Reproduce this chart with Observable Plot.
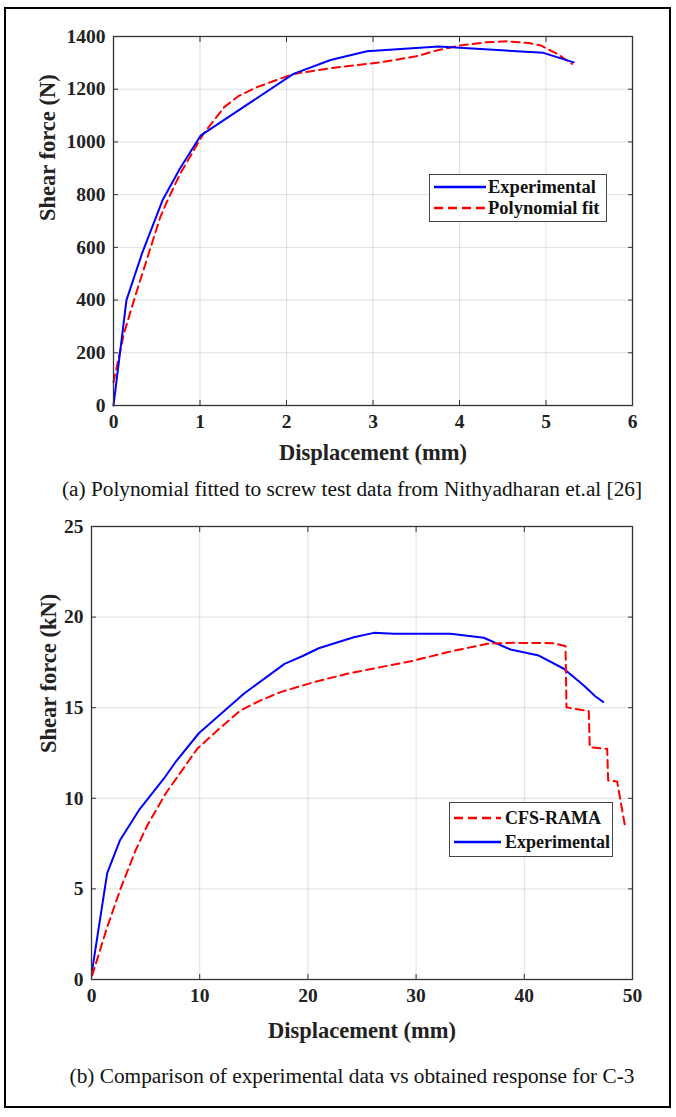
<!DOCTYPE html>
<html><head><meta charset="utf-8">
<script src="https://cdn.jsdelivr.net/npm/d3@7"></script>
<script src="https://cdn.jsdelivr.net/npm/@observablehq/plot@0.6"></script>
<style>
body{margin:0;background:#fff;}
#page{position:relative;width:676px;height:1117px;overflow:hidden;font-family:"Liberation Serif","Times New Roman",serif;background:#fff;}
.border{position:absolute;left:4px;top:7px;width:667px;height:1101px;border:2.5px solid #000;box-sizing:border-box;}
.chart{position:absolute;left:0;}
.caption{position:absolute;left:14px;width:676px;text-align:center;font-size:21.3px;color:#111;line-height:1;}
.legend{position:absolute;background:#fff;border:1.2px solid #444;box-sizing:border-box;font-weight:bold;font-size:18.5px;color:#111;}
.legend .sw{position:absolute;}
.legend .lb{position:absolute;line-height:1;white-space:nowrap;}
</style>
</head><body>
<div id="page">
  <div class="border"></div>
  <div class="chart" id="c1" style="top:0px"></div>
  <div class="caption" style="top:479px">(a) Polynomial fitted to screw test data from Nithyadharan et.al [26]</div>
  <div class="chart" id="c2" style="top:480px"></div>
  <div class="caption" style="top:1066px">(b) Comparison of experimental data vs obtained response for C-3</div>
  <div class="legend" id="leg1" style="left:429px;top:174px;width:178px;height:48px"></div>
  <div class="legend" id="leg2" style="left:449px;top:802px;width:164px;height:55px;font-size:18px"></div>
</div>
<script>
// ---- Chart (a) data ----
const expDisp1 = [0, 0.15, 0.33, 0.57, 0.77, 1.01, 2.08, 2.51, 2.93, 3.76, 4.97, 5.32];
const expForce1 = [0, 400, 577, 781, 900, 1025, 1258, 1311, 1344, 1362, 1338, 1302];
const fitDisp1 = [0, 0.12, 0.235, 0.43, 0.54, 0.61, 0.77, 1.04, 1.28, 1.45, 1.66, 2.08, 2.51, 3.09, 3.5, 3.76, 4.01, 4.3, 4.55, 4.8, 4.94, 5.13, 5.30];
const fitForce1 = [88, 272, 398, 600, 714, 768, 879, 1031, 1132, 1175, 1208, 1258, 1280, 1302, 1325, 1349, 1366, 1378, 1382, 1375, 1366, 1334, 1296];
const xTicks1 = [0, 1, 2, 3, 4, 5, 6];
const yTicks1 = [0, 200, 400, 600, 800, 1000, 1200, 1400];

// ---- Chart (b) data ----
const expDisp2 = [0.06, 1.45, 2.62, 4.37, 6.68, 7.76, 9.92, 14.08, 17.84, 19.47, 21.0, 24.24, 26.09, 27.94, 33.18, 36.26, 38.72, 41.34, 43.65, 45.5, 46.58, 47.29];
const expForce2 = [0.5, 5.87, 7.67, 9.33, 11.08, 11.99, 13.59, 15.77, 17.42, 17.84, 18.28, 18.89, 19.13, 19.08, 19.08, 18.86, 18.21, 17.88, 17.15, 16.23, 15.62, 15.32];
const ramaDisp2 = [0.06, 1.45, 2.68, 4.07, 5.15, 6.84, 9.77, 11.62, 13.77, 15.62, 17.47, 20.55, 23.63, 26.71, 29.79, 32.87, 36.57, 39.03, 42.73, 43.81, 43.9, 44.57, 45.96, 46.05, 47.66, 47.75, 48.58, 49.35];
const ramaForce2 = [0.22, 2.89, 5.0, 7.12, 8.5, 10.25, 12.73, 13.74, 14.85, 15.4, 15.86, 16.41, 16.87, 17.24, 17.6, 18.06, 18.53, 18.58, 18.56, 18.39, 15.03, 14.94, 14.81, 12.82, 12.73, 10.98, 10.93, 8.32];
const xTicks2 = [0, 10, 20, 30, 40, 50];
const yTicks2 = [0, 5, 10, 15, 20, 25];

const xLabel = "Displacement (mm)";
const yLabel1 = "Shear force (N)";
const yLabel2 = "Shear force (kN)";
const legend1 = [["Experimental", "#0000ff", null], ["Polynomial fit", "#ff0000", "8,5"]];
const legend2 = [["CFS-RAMA", "#ff0000", "8,5"], ["Experimental", "#0000ff", null]];

const zip = (xs, ys) => xs.map((x, i) => ({x, y: ys[i]}));
const BLUE = "#0000ff", RED = "#ff0000";
const fmt = d => String(d);

function makeChart({height, marginTop, marginBottom, marginLeft, marginRight, xDomain, yDomain, xTicks, yTicks, series, yLabel, yLabelDx, xLabelDy}) {
  const frameTicks = [
    Plot.axisX(xTicks, {anchor: "bottom", tickSize: 0, tickPadding: 9, tickFormat: fmt, fontSize: 19.5, fontWeight: "bold", fill: "#222", label: null}),
    Plot.axisY(yTicks, {anchor: "left", tickSize: 0, tickPadding: 8, tickFormat: fmt, fontSize: 19.5, fontWeight: "bold", fill: "#222", label: null}),
    Plot.axisX(xTicks, {anchor: "bottom", tickSize: -5, tickFormat: () => "", stroke: "#333", label: null}),
    Plot.axisX(xTicks, {anchor: "top", tickSize: -5, tickFormat: () => "", stroke: "#333", label: null}),
    Plot.axisY(yTicks, {anchor: "left", tickSize: -5, tickFormat: () => "", stroke: "#333", label: null}),
    Plot.axisY(yTicks, {anchor: "right", tickSize: -5, tickFormat: () => "", stroke: "#333", label: null})
  ];
  return Plot.plot({
    width: 676, height, marginTop, marginBottom, marginLeft, marginRight,
    style: {fontFamily: "'Liberation Serif', 'Times New Roman', serif", fontSize: "19px", fontWeight: "bold", color: "#222", background: "transparent", overflow: "visible"},
    x: {domain: xDomain},
    y: {domain: yDomain},
    marks: [
      Plot.gridX(xTicks, {stroke: "#000", strokeOpacity: 0.12, strokeWidth: 1}),
      Plot.gridY(yTicks, {stroke: "#000", strokeOpacity: 0.12, strokeWidth: 1}),
      ...series.map(s => Plot.line(s.data, {x: "x", y: "y", stroke: s.color, strokeWidth: 2, strokeDasharray: s.dash, curve: "linear"})),
      Plot.frame({stroke: "#333", strokeWidth: 1.3}),
      ...frameTicks,
      Plot.text([xLabel], {frameAnchor: "bottom", text: d => d, dy: xLabelDy, fontSize: 22.5, fontWeight: "bold", fill: "#222", lineAnchor: "middle"}),
      Plot.text([yLabel], {frameAnchor: "left", text: d => d, dx: yLabelDx, rotate: -90, fontSize: 22.5, fontWeight: "bold", fill: "#222", lineAnchor: "middle"})
    ]
  });
}

document.getElementById("c1").append(makeChart({
  height: 470, marginTop: 36, marginBottom: 65, marginLeft: 113, marginRight: 44,
  xDomain: [0, 6], yDomain: [0, 1400], xTicks: xTicks1, yTicks: yTicks1,
  series: [
    {data: zip(fitDisp1, fitForce1), color: RED, dash: "8,5"},
    {data: zip(expDisp1, expForce1), color: BLUE, dash: null}
  ],
  yLabel: yLabel1, yLabelDx: -66, xLabelDy: 47
}));

document.getElementById("c2").append(makeChart({
  height: 569, marginTop: 46, marginBottom: 70, marginLeft: 91, marginRight: 44,
  xDomain: [0, 50], yDomain: [0, 25], xTicks: xTicks2, yTicks: yTicks2,
  series: [
    {data: zip(expDisp2, expForce2), color: BLUE, dash: null},
    {data: zip(ramaDisp2, ramaForce2), color: RED, dash: "8,5"}
  ],
  yLabel: yLabel2, yLabelDx: -43, xLabelDy: 51
}));

function buildLegend(id, items, {swX, swW, txtX, rowYs}) {
  const el = document.getElementById(id);
  items.forEach(([label, color, dash], i) => {
    const sw = document.createElementNS("http://www.w3.org/2000/svg", "svg");
    sw.setAttribute("class", "sw");
    sw.setAttribute("width", swW);
    sw.setAttribute("height", 6);
    sw.style.left = swX + "px";
    sw.style.top = (rowYs[i] - 3) + "px";
    const ln = document.createElementNS("http://www.w3.org/2000/svg", "line");
    ln.setAttribute("x1", 0); ln.setAttribute("x2", swW);
    ln.setAttribute("y1", 3); ln.setAttribute("y2", 3);
    ln.setAttribute("stroke", color); ln.setAttribute("stroke-width", 2.5);
    if (dash) ln.setAttribute("stroke-dasharray", "9,5");
    sw.appendChild(ln);
    el.appendChild(sw);
    const t = document.createElement("div");
    t.className = "lb";
    t.textContent = label;
    t.style.left = txtX + "px";
    t.style.top = (rowYs[i] - 9) + "px";
    el.appendChild(t);
  });
}
buildLegend("leg1", legend1, {swX: 4, swW: 52, txtX: 58, rowYs: [12, 33]});
buildLegend("leg2", legend2, {swX: 4, swW: 47, txtX: 55, rowYs: [15, 39]});
</script>
</body></html>
